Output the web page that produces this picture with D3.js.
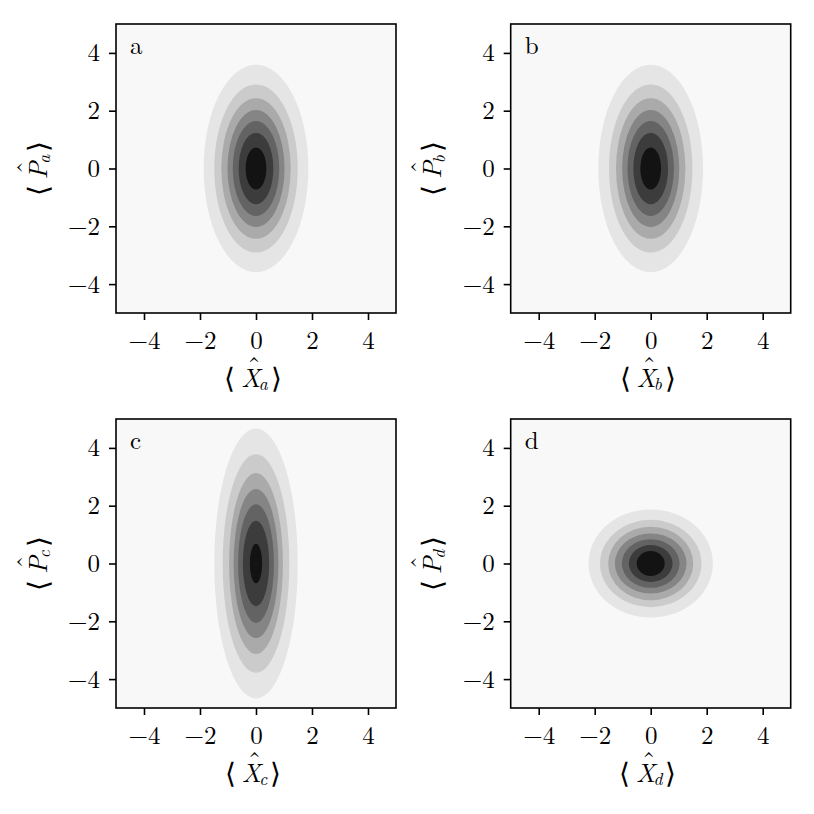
<!DOCTYPE html>
<html>
<head>
<meta charset="utf-8">
<script src="https://cdn.jsdelivr.net/npm/d3@7"></script>
<style>
  html, body { margin: 0; padding: 0; background: #fff; }
  text { font-family: "Latin Modern Roman", "Liberation Serif", serif; fill: #000; }
  tspan.delim { font-family: "DejaVu Sans", sans-serif; font-weight: 200; }
</style>
</head>
<body>
<div id="app"></div>
<script>
// panel letters, also used as subscripts of the axis labels
const panelNames = ['a', 'b', 'c', 'd'];
const xTicks = [-4, -2, 0, 2, 4];
const yTicks = [-4, -2, 0, 2, 4];
const domainX = [-5, 5];
const domainP = [-5, 5];

// half-widths / half-heights of each filled contour boundary, outermost first
const semiX_a = [1.87, 1.49, 1.24, 1.02, 0.83, 0.62, 0.37];
const semiP_a = [3.59, 2.91, 2.43, 2.02, 1.64, 1.24, 0.73];
const semiX_b = [1.87, 1.49, 1.24, 1.02, 0.83, 0.62, 0.37];
const semiP_b = [3.59, 2.91, 2.43, 2.02, 1.64, 1.24, 0.73];
const semiX_c = [1.49, 1.19, 0.96, 0.80, 0.64, 0.47, 0.22];
const semiP_c = [4.67, 3.78, 3.13, 2.58, 2.05, 1.48, 0.68];
const semiX_d = [2.22, 1.81, 1.52, 1.28, 1.03, 0.78, 0.50];
const semiP_d = [1.87, 1.51, 1.27, 1.04, 0.84, 0.64, 0.43];

const semiX = [semiX_a, semiX_b, semiX_c, semiX_d];
const semiP = [semiP_a, semiP_b, semiP_c, semiP_d];

const width = 814;
const height = 814;
const plotW = 280;
const plotH = 289;
const origins = [[116, 24], [510.7, 24], [116, 419], [510.7, 419]];
const fontSize = 25;

// matplotlib-like Greys, sampled at the middle of each of the 8 bands
const greys = d3.scaleLinear()
  .domain(d3.range(9).map(i => i / 8))
  .range(d3.schemeGreys[9]);
const bandColor = k => greys((k + 0.5) / 8);

const fmt = d => (d < 0 ? '\u2212' : '') + Math.abs(d);

const svg = d3.select('#app').append('svg')
  .attr('width', width)
  .attr('height', height);

// <X^_a> as one text, centred on x = 0, baseline at y = 0
const mathLabel = (parent, letter, sub) => {
  const pieces = [
    { txt: '\u27E8', size: 28, italic: false, dy: 1, gap: 6, cls: 'delim' },
    { txt: letter, size: 26, italic: true, dy: 0, gap: -2 },
    { txt: sub, size: 17.5, italic: true, dy: 3.5, gap: 3 },
    { txt: '\u27E9', size: 28, italic: false, dy: 1, gap: 0, cls: 'delim' }
  ];
  const probe = parent.append('text');
  let cursor = 0;
  pieces.forEach(p => {
    const s = probe.append('tspan')
      .attr('class', p.cls || null)
      .attr('font-size', p.size)
      .attr('font-style', p.italic ? 'italic' : 'normal')
      .text(p.txt);
    p.w = s.node().getComputedTextLength();
    s.remove();
    p.x = cursor;
    cursor += p.w + p.gap;
  });
  probe.remove();
  const shift = cursor / 2;

  const t = parent.append('text');
  pieces.forEach(p => {
    t.append('tspan')
      .attr('class', p.cls || null)
      .attr('x', p.x - shift)
      .attr('y', p.dy)
      .attr('font-size', p.size)
      .attr('font-style', p.italic ? 'italic' : 'normal')
      .text(p.txt);
  });
  const base = pieces[1];
  t.append('tspan')
    .attr('x', base.x + base.w / 2 + 3 - shift)
    .attr('y', -11)
    .attr('text-anchor', 'middle')
    .attr('font-size', 27)
    .attr('font-style', 'normal')
    .text('\u02C6');
};

panelNames.forEach((name, i) => {
  const [ox, oy] = origins[i];
  const x = d3.scaleLinear().domain(domainX).range([0, plotW]);
  const y = d3.scaleLinear().domain(domainP).range([plotH, 0]);

  const g = svg.append('g').attr('transform', `translate(${ox},${oy})`);

  g.append('rect')
    .attr('width', plotW)
    .attr('height', plotH)
    .attr('fill', bandColor(0));

  g.selectAll('ellipse')
    .data(d3.zip(semiX[i], semiP[i]))
    .enter().append('ellipse')
    .attr('cx', x(0))
    .attr('cy', y(0))
    .attr('rx', d => x(d[0]) - x(0))
    .attr('ry', d => y(0) - y(d[1]))
    .attr('fill', (d, k) => bandColor(k + 1));

  const xAxis = g.append('g')
    .attr('transform', `translate(0,${plotH})`)
    .call(d3.axisBottom(x).tickValues(xTicks).tickSize(7).tickFormat(fmt));
  const yAxis = g.append('g')
    .call(d3.axisLeft(y).tickValues(yTicks).tickSize(7).tickPadding(9).tickFormat(fmt));

  [xAxis, yAxis].forEach(ax => {
    ax.attr('font-family', null).attr('font-size', null);
    ax.select('.domain').remove();
    ax.selectAll('line').attr('stroke', '#000').attr('stroke-width', 1.6);
    ax.selectAll('text').attr('font-size', fontSize).attr('fill', '#000');
  });
  xAxis.selectAll('text').attr('y', 36).attr('dy', null);

  g.append('rect')
    .attr('width', plotW)
    .attr('height', plotH)
    .attr('fill', 'none')
    .attr('stroke', '#000')
    .attr('stroke-width', 1.6);

  g.append('text')
    .attr('x', 14)
    .attr('y', 29.5)
    .attr('font-size', fontSize)
    .text(name);

  const xl = g.append('g').attr('transform', `translate(${plotW / 2 - 3},${plotH + 73.5})`);
  mathLabel(xl, 'X', name);

  const yl = g.append('g').attr('transform', `translate(-69.5,${plotH / 2}) rotate(-90)`);
  mathLabel(yl, 'P', name);
});
</script>
</body>
</html>
